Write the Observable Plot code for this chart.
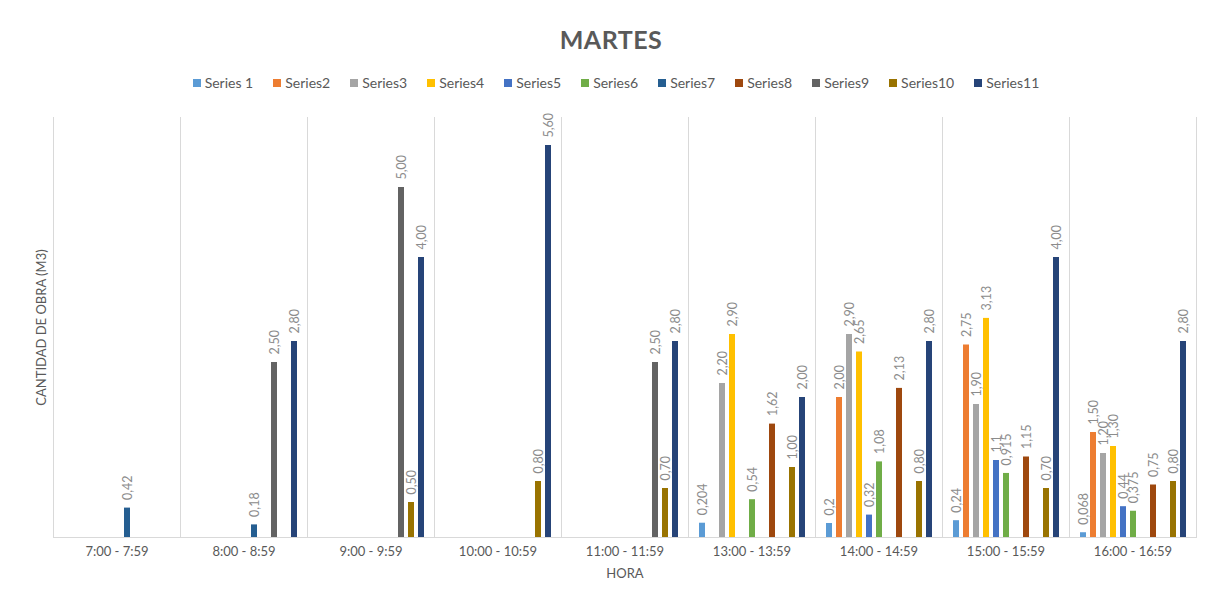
<!DOCTYPE html>
<html><head><meta charset="utf-8">
<script src="https://cdn.jsdelivr.net/npm/d3@7"></script>
<script src="https://cdn.jsdelivr.net/npm/@observablehq/plot@0.6"></script>
<style>
body{margin:0;background:#fff;font-family:Lato,sans-serif;}
#wrap{width:1211px;height:607px;position:relative;overflow:hidden;}
#title{position:absolute;top:24px;left:0;width:1222px;text-align:center;font-weight:bold;font-size:25px;color:#595959;letter-spacing:0.5px;}
#legend{position:absolute;top:74px;left:0;width:1232px;display:flex;justify-content:center;gap:20px;font-size:14px;color:#595959;}
.item{display:flex;align-items:center;gap:4px;}
.sw{width:8px;height:8px;display:inline-block;}
#chart{position:absolute;top:100px;left:0;}
</style></head>
<body>
<div id="wrap">
  <div id="title">MARTES</div>
  <div id="legend"></div>
  <div id="chart"></div>
</div>
<script>
const hours = ["7:00 - 7:59","8:00 - 8:59","9:00 - 9:59","10:00 - 10:59","11:00 - 11:59","13:00 - 13:59","14:00 - 14:59","15:00 - 15:59","16:00 - 16:59"];
const seriesNames = ["Series 1","Series2","Series3","Series4","Series5","Series6","Series7","Series8","Series9","Series10","Series11"];
const colors = ["#5B9BD5","#ED7D31","#A5A5A5","#FFC000","#4472C4","#70AD47","#255E91","#9E480E","#636363","#997300","#264478"];

// values as displayed (comma decimal); "" = no bar
const series1  = ["","","","","","0,204","0,2","0,24","0,068"];
const series2  = ["","","","","","","2,00","2,75","1,50"];
const series3  = ["","","","","","2,20","2,90","1,90","1,20"];
const series4  = ["","","","","","2,90","2,65","3,13","1,30"];
const series5  = ["","","","","","","0,32","1,1","0,44"];
const series6  = ["","","","","","0,54","1,08","0,915","0,375"];
const series7  = ["0,42","0,18","","","","","","",""];
const series8  = ["","","","","","1,62","2,13","1,15","0,75"];
const series9  = ["","2,50","5,00","","2,50","","","",""];
const series10 = ["","","0,50","0,80","0,70","1,00","0,80","0,70","0,80"];
const series11 = ["","2,80","4,00","5,60","2,80","2,00","2,80","4,00","2,80"];
const seriesList = [series1,series2,series3,series4,series5,series6,series7,series8,series9,series10,series11];

const data = [];
seriesList.forEach((arr, si) => arr.forEach((v, hi) => {
  if (v !== "") data.push({hour: hours[hi], series: seriesNames[si], value: +v.replace(",", "."), label: v});
}));

const legend = document.getElementById("legend");
seriesNames.forEach((s, i) => {
  const it = document.createElement("div"); it.className = "item";
  const sw = document.createElement("span"); sw.className = "sw"; sw.style.background = colors[i];
  const t = document.createElement("span"); t.textContent = s;
  it.appendChild(sw); it.appendChild(t); legend.appendChild(it);
});

const chart = Plot.plot({
  width: 1211, height: 507,
  marginTop: 17, marginBottom: 70, marginLeft: 52, marginRight: 15,
  style: {fontFamily: "Lato, sans-serif", fontSize: "13px", color: "#595959", background: "transparent"},
  fx: {domain: hours, padding: 0, label: "HORA"},
  x: {domain: seriesNames, paddingInner: 0.4, paddingOuter: 1.05, axis: null},
  y: {domain: [0, 6], axis: null},
  color: {domain: seriesNames, range: colors},
  marks: [
    Plot.frame({anchor: "left", stroke: "#d9d9d9", strokeOpacity: 1}),
    Plot.frame({anchor: "right", stroke: "#d9d9d9", strokeOpacity: 1}),
    Plot.frame({anchor: "bottom", stroke: "#d9d9d9", strokeOpacity: 1}),
    Plot.barY(data, {fx: "hour", x: "series", y: "value", fill: "series"}),
    Plot.text(data, {fx: "hour", x: "series", y: "value", text: "label", rotate: -90, textAnchor: "start", dy: -8, fill: "#8c8c8c", fontSize: 12.5}),
    Plot.axisFx({anchor: "bottom", tickSize: 0, tickPadding: 9, label: "HORA", labelAnchor: "center", labelOffset: 40}),
    Plot.axisY({ticks: [], tickSize: 0, label: "CANTIDAD DE OBRA (M3)", labelArrow: "none", labelAnchor: "center", labelOffset: 17})
  ]
});
document.getElementById("chart").appendChild(chart);
</script>
</body></html>
